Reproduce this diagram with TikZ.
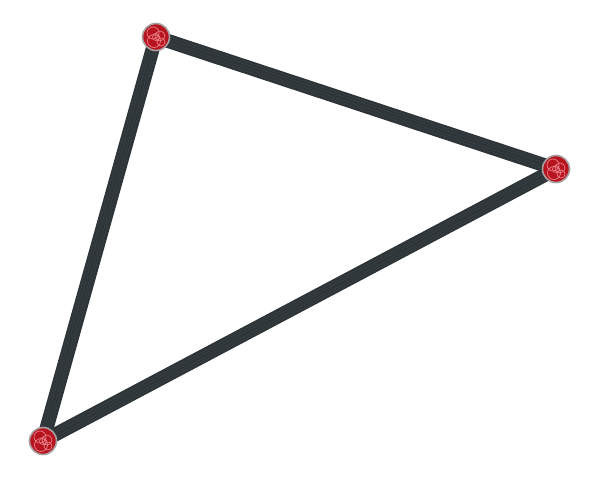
\documentclass[tikz,border=0pt]{standalone}
\usetikzlibrary{calc}
\begin{document}
\begin{tikzpicture}[x=1pt,y=-1pt,
  edgeline/.style={draw=edgecol,line width=14pt},
  strand/.style={draw=white,opacity=0.08,line width=0.4pt},
  vnode/.style={circle,minimum size=27pt,inner sep=0pt,fill=nodered,draw=nodegray,line width=1.6pt},
  sub/.style={draw=subred,line width=0.7pt}]
\definecolor{edgecol}{HTML}{2E3538}
\definecolor{nodered}{HTML}{B8141F}
\definecolor{nodegray}{HTML}{A8A0A0}
\definecolor{subred}{HTML}{E88088}
\useasboundingbox (0,0) rectangle (600,480);
\coordinate (pa) at (156,37);
\coordinate (pb) at (556,169);
\coordinate (pc) at (43,441);
\draw[edgeline] (pa) -- (pb);
\draw[edgeline] (pb) -- (pc);
\draw[edgeline] (pc) -- (pa);
\foreach \o in {-4,-1.5,2,4.5}{
  \draw[strand] ($(pa)!\o pt!90:(pb)$) -- ($(pb)!\o pt!-90:(pa)$);
  \draw[strand] ($(pb)!\o pt!90:(pc)$) -- ($(pc)!\o pt!-90:(pb)$);
  \draw[strand] ($(pc)!\o pt!90:(pa)$) -- ($(pa)!\o pt!-90:(pc)$);
}
\node[vnode] (a) at (pa) {};
\node[vnode] (b) at (pb) {};
\node[vnode] (c) at (pc) {};
\foreach \n in {a,b,c}{
  \draw[sub] (\n) ++(-3,-4) circle (6);
  \draw[sub] (\n) ++(4,-1) circle (5);
  \draw[sub] (\n) ++(-2,4) circle (6.5);
  \draw[sub] (\n) ++(5,5) circle (4);
  \draw[sub] (\n) ++(0,0) circle (3.5);
}
\end{tikzpicture}
\end{document}
